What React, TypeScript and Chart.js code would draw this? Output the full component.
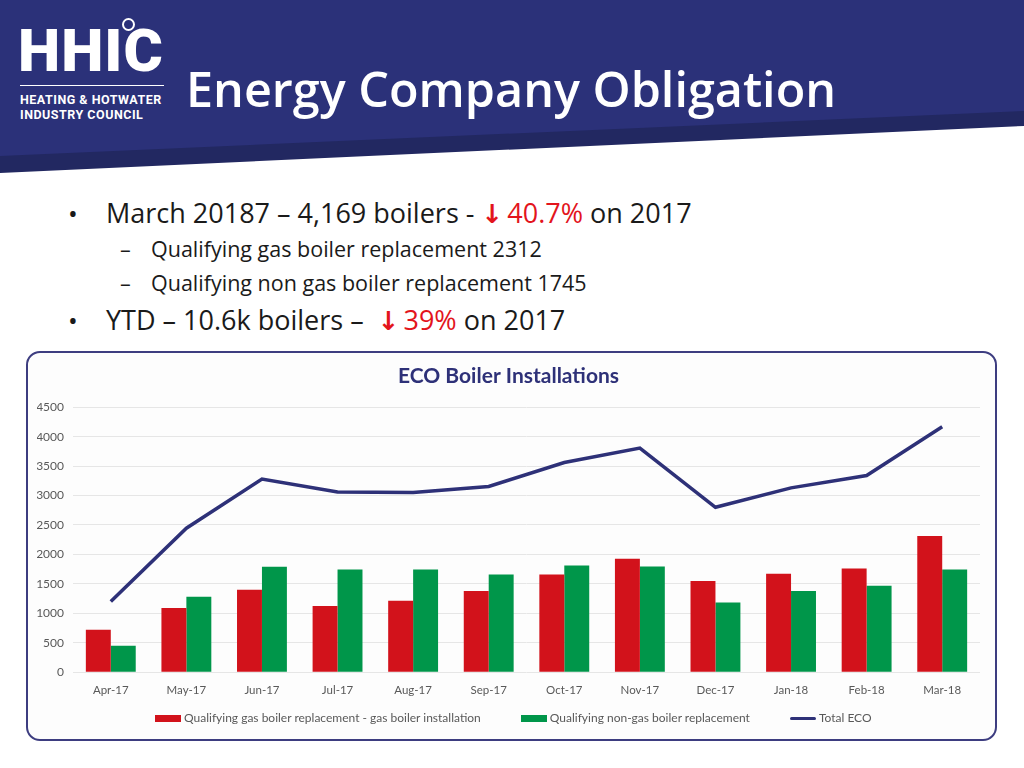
import React, { useEffect, useRef } from "react";
import { Chart, registerables } from "chart.js";

Chart.register(...registerables);

const months = ["Apr-17", "May-17", "Jun-17", "Jul-17", "Aug-17", "Sep-17", "Oct-17", "Nov-17", "Dec-17", "Jan-18", "Feb-18", "Mar-18"];
const gasReplacement = [720, 1090, 1400, 1125, 1215, 1380, 1660, 1925, 1550, 1670, 1760, 2312];
const nonGasReplacement = [450, 1280, 1790, 1745, 1745, 1660, 1810, 1795, 1185, 1380, 1470, 1745];
const totalEco = [1200, 2445, 3280, 3060, 3050, 3155, 3560, 3805, 2800, 3130, 3340, 4169];
const yMin = 0;
const yMax = 4500;
const yStep = 500;
const seriesNames = [
  "Qualifying gas boiler replacement - gas boiler installation",
  "Qualifying non-gas boiler replacement",
  "Total ECO",
];
const chartTitle = "ECO Boiler Installations";

const RED = "#d2121b";
const GREEN = "#00964a";
const NAVY = "#2e3178";
const AXIS_FONT = "Lato, 'Open Sans', sans-serif";

function EcoChart() {
  const ref = useRef<HTMLCanvasElement | null>(null);
  useEffect(() => {
    if (!ref.current) return;
    const chart = new Chart(ref.current, {
      type: "bar",
      data: {
        labels: months,
        datasets: [
          {
            type: "line",
            label: seriesNames[2],
            data: totalEco,
            borderColor: NAVY,
            backgroundColor: NAVY,
            borderWidth: 3.5,
            pointRadius: 0,
            tension: 0,
            order: 0,
          } as any,
          {
            type: "bar",
            label: seriesNames[0],
            data: gasReplacement,
            backgroundColor: RED,
            categoryPercentage: 0.66,
            barPercentage: 1,
            order: 1,
          },
          {
            type: "bar",
            label: seriesNames[1],
            data: nonGasReplacement,
            backgroundColor: GREEN,
            categoryPercentage: 0.66,
            barPercentage: 1,
            order: 1,
          },
        ],
      },
      options: {
        responsive: false,
        animation: false,
        layout: { padding: { left: 9, right: 15, top: 0, bottom: 39 } },
        plugins: {
          legend: { display: false },
          tooltip: { enabled: false },
          title: {
            display: true,
            text: chartTitle,
            color: NAVY,
            font: { family: AXIS_FONT, size: 21, weight: "bold" },
            padding: { top: 11, bottom: 18 },
          },
        },
        scales: {
          x: {
            grid: { display: false },
            border: { display: false },
            ticks: { color: "#595959", font: { family: AXIS_FONT, size: 11.5 }, padding: 3 },
          },
          y: {
            min: yMin,
            max: yMax,
            border: { display: false },
            grid: { color: "#e6e6e6", drawTicks: false },
            ticks: {
              stepSize: yStep,
              color: "#595959",
              font: { family: AXIS_FONT, size: 12 },
              padding: 9,
              callback: (v: any) => String(v),
            },
            afterFit: (scale: any) => {
              scale.width = 36;
            },
          },
        },
      },
    });
    return () => chart.destroy();
  }, []);
  return <canvas ref={ref} width={967} height={386} style={{ display: "block" }} />;
}

function LegendItem({ color, text, line }: { color: string; text: string; line?: boolean }) {
  return (
    <div style={{ display: "flex", alignItems: "center" }}>
      <div
        style={{
          width: 26,
          height: line ? 3 : 7,
          background: color,
          marginRight: 3,
          borderRadius: line ? 2 : 0,
        }}
      />
      <span>{text}</span>
    </div>
  );
}

const arrowStyle: React.CSSProperties = {
  fontFamily: "'DejaVu Sans', sans-serif",
  fontWeight: 700,
  fontSize: 26,
  marginRight: 4,
};

export default function App() {
  const bodyFont = "'Open Sans', 'Noto Sans', sans-serif";
  return (
    <div style={{ position: "fixed", left: 0, top: 0, width: 1024, height: 768, background: "#fff", overflow: "hidden", fontFamily: bodyFont }}>
      <svg width={1024} height={180} style={{ position: "absolute", left: 0, top: 0 }}>
        <polygon points="0,0 1024,0 1024,112 0,157" fill="#2b3179" />
        <polygon points="0,156 1024,111 1024,126 0,173" fill="#222861" />
      </svg>
      {/* Logo */}
      <div style={{ position: "absolute", left: 18, top: 19, color: "#fff", fontFamily: "Roboto, 'DejaVu Sans', sans-serif", fontWeight: 900, fontSize: 60, lineHeight: "64px", letterSpacing: 1 }}>
        HHIC
      </div>
      <div style={{ position: "absolute", left: 122, top: 18, width: 9, height: 9, borderRadius: "50%", border: "2.5px solid #fff" }} />
      <div style={{ position: "absolute", left: 20, top: 85, width: 144, height: 1, background: "#fff" }} />
      <div style={{ position: "absolute", left: 20, top: 92, color: "#fff", fontFamily: "Roboto, sans-serif", fontWeight: 700, fontSize: 12.5, lineHeight: "15px", letterSpacing: 0.5 }}>
        HEATING &amp; HOTWATER
        <br />
        INDUSTRY COUNCIL
      </div>
      <div style={{ position: "absolute", left: 186, top: 55, color: "#fff", fontSize: 48.5, fontWeight: 600, lineHeight: "66px", whiteSpace: "nowrap" }}>
        Energy Company Obligation
      </div>

      {/* Bullets */}
      <div style={{ position: "absolute", left: 68, top: 194, fontSize: 26, lineHeight: "38px", color: "#1a1a1a" }}>•</div>
      <div style={{ position: "absolute", left: 106, top: 194, fontSize: 27, lineHeight: "38px", color: "#1a1a1a", whiteSpace: "nowrap" }}>
        March 20187 – 4,169 boilers - <span style={{ color: "#e3141c" }}><span style={arrowStyle}>↓</span>40.7%</span> on 2017
      </div>
      <div style={{ position: "absolute", left: 120, top: 234, fontSize: 21.5, lineHeight: "30px", color: "#1a1a1a" }}>–</div>
      <div style={{ position: "absolute", left: 151, top: 234, fontSize: 21.5, lineHeight: "30px", color: "#1a1a1a", whiteSpace: "nowrap" }}>
        Qualifying gas boiler replacement 2312
      </div>
      <div style={{ position: "absolute", left: 120, top: 268, fontSize: 21.5, lineHeight: "30px", color: "#1a1a1a" }}>–</div>
      <div style={{ position: "absolute", left: 151, top: 268, fontSize: 21.5, lineHeight: "30px", color: "#1a1a1a", whiteSpace: "nowrap" }}>
        Qualifying non gas boiler replacement 1745
      </div>
      <div style={{ position: "absolute", left: 68, top: 301, fontSize: 26, lineHeight: "38px", color: "#1a1a1a" }}>•</div>
      <div style={{ position: "absolute", left: 106, top: 301, fontSize: 27, lineHeight: "38px", color: "#1a1a1a", whiteSpace: "nowrap" }}>
        YTD – 10.6k boilers –&nbsp; <span style={{ color: "#e3141c" }}><span style={arrowStyle}>↓</span>39%</span> on 2017
      </div>

      {/* Chart box */}
      <div style={{ position: "absolute", left: 26, top: 351, width: 967, height: 386, border: "2px solid #3d3d80", borderRadius: 14, background: "#fdfdfd" }} />
      <div style={{ position: "absolute", left: 28, top: 353 }}>
        <EcoChart />
      </div>
      <div style={{ position: "absolute", left: 155, top: 710, display: "flex", gap: 40, fontFamily: AXIS_FONT, fontSize: 12, color: "#595959", lineHeight: "16px", whiteSpace: "nowrap" }}>
        <LegendItem color={RED} text={seriesNames[0]} />
        <LegendItem color={GREEN} text={seriesNames[1]} />
        <LegendItem color={NAVY} text={seriesNames[2]} line />
      </div>
    </div>
  );
}
